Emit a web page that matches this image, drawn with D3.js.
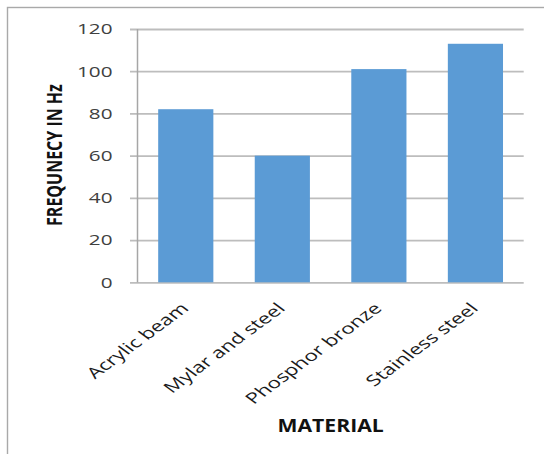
<!DOCTYPE html>
<html>
<head>
<meta charset="utf-8">
<script src="https://cdn.jsdelivr.net/npm/d3@7"></script>
<style>
  html, body { margin: 0; padding: 0; background: #fff; }
  svg { display: block; }
  text { font-family: "Open Sans", "DejaVu Sans", sans-serif; }
</style>
</head>
<body>
<svg id="chart" width="544" height="454"></svg>
<script>
// Natural frequency measured for each beam material
const materials = ["Acrylic beam", "Mylar and steel", "Phosphor bronze", "Stainless steel"];
const frequencies = [82, 60, 101, 113];
const yTicks = [0, 20, 40, 60, 80, 100, 120];
const yTitle = "FREQUNECY IN Hz";
const xTitle = "MATERIAL";

const svg = d3.select("#chart");

// frame around the chart area (runs off the right and bottom edges)
svg.append("rect")
  .attr("x", 7.5).attr("y", 7.5)
  .attr("width", 700).attr("height", 700)
  .attr("fill", "none")
  .attr("stroke", "#a9a9a9")
  .attr("stroke-width", 1.4);

const plot = { left: 137.5, right: 523.7, top: 29, bottom: 282.3 };

const x = d3.scaleBand()
  .domain(materials)
  .range([plot.left, plot.right])
  .paddingInner(0.75 / 1.75)
  .paddingOuter(0.375 / 1.75);

const y = d3.scaleLinear()
  .domain([0, 120])
  .range([plot.bottom, plot.top]);

// horizontal gridlines with short tick stubs left of the axis
const grid = svg.append("g")
  .attr("transform", `translate(${plot.left},0)`)
  .call(d3.axisLeft(y).tickValues(yTicks).tickSize(-(plot.right - plot.left)).tickFormat(""));
grid.select(".domain").remove();
grid.selectAll(".tick line")
  .attr("x1", -7.5)
  .attr("stroke", "#bdbdbd")
  .attr("stroke-width", 1.8);

// tick labels
svg.append("g").selectAll("text")
  .data(yTicks)
  .join("text")
  .attr("transform", d => `translate(${plot.left - 25},${y(d) + 5.3}) scale(1.38,1)`)
  .attr("text-anchor", "end")
  .attr("font-size", 15)
  .attr("fill", "#404040")
  .text(d => d);

// bars
svg.append("g").selectAll("rect")
  .data(frequencies)
  .join("rect")
  .attr("x", (d, i) => x(materials[i]))
  .attr("width", x.bandwidth())
  .attr("y", d => y(d))
  .attr("height", d => y(0) - y(d))
  .attr("fill", "#5b9bd5");

// vertical axis line
svg.append("line")
  .attr("x1", plot.left).attr("x2", plot.left)
  .attr("y1", plot.top).attr("y2", plot.bottom)
  .attr("stroke", "#a6a6a6")
  .attr("stroke-width", 1.5);

// slanted category labels
svg.append("g").selectAll("text")
  .data(materials)
  .join("text")
  .attr("transform", d => `translate(${x(d) + x.bandwidth() / 2 + 4},${plot.bottom + 27}) scale(1.35,1) rotate(-45) scale(1.12,1)`)
  .attr("text-anchor", "end")
  .attr("font-size", 15)
  .attr("fill", "#1a1a1a")
  .text(d => d);

// axis titles
svg.append("text")
  .attr("transform", `translate(62.3,155) rotate(-90) scale(1,1.37)`)
  .attr("text-anchor", "middle")
  .attr("font-size", 16)
  .attr("font-weight", "bold")
  .attr("fill", "#111")
  .text(yTitle);

svg.append("text")
  .attr("transform", `translate(${(plot.left + plot.right) / 2},431.7) scale(1.21,1)`)
  .attr("text-anchor", "middle")
  .attr("font-size", 17.5)
  .attr("font-weight", "bold")
  .attr("fill", "#111")
  .text(xTitle);
</script>
</body>
</html>
